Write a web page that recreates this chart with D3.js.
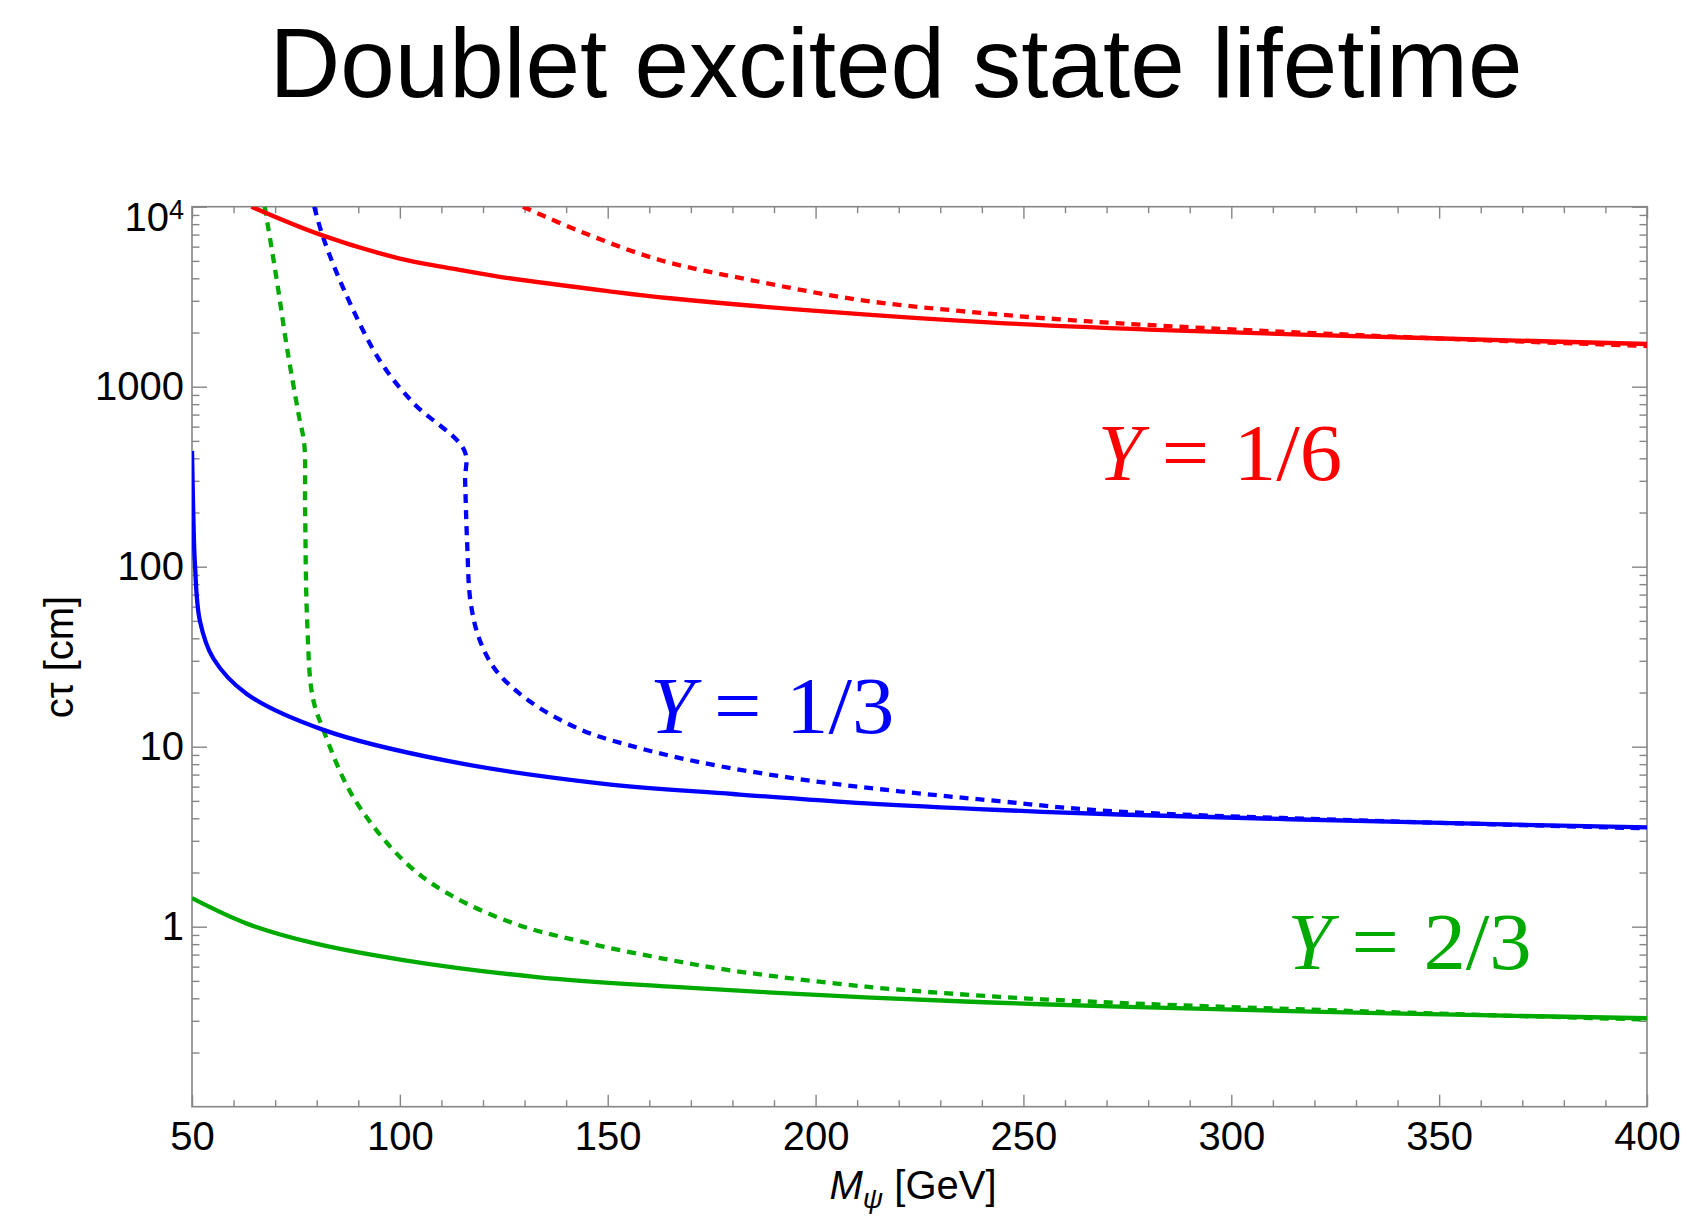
<!DOCTYPE html>
<html>
<head>
<meta charset="utf-8">
<script src="https://cdn.jsdelivr.net/npm/d3@7"></script>
<style>
  body { margin: 0; background: #fff; }
  text { font-family: "Liberation Sans", Arial, sans-serif; }
</style>
</head>
<body>
<svg id="chart"></svg>
<script>
// curves, [M_psi (GeV), c tau (cm)]
const y16Solid = [[64.3, 10000], [81.2, 6950], [100, 5150], [111.2, 4590], [124, 4080], [150, 3400],
  [165, 3100], [202.6, 2611], [242.6, 2269], [287.5, 2047], [348.4, 1858], [400, 1727]];
const y16Dashed = [[129.6, 10000], [143.3, 7300], [162.5, 5059], [186.5, 3828], [210.6, 3034],
  [234.6, 2636], [258.7, 2367], [287.5, 2154], [348.4, 1860], [400, 1683]];
const y13Solid = [[50, 440], [50.3, 200], [50.7, 104], [51.9, 50], [55.1, 31], [63.1, 19.7],
  [81.6, 12.4], [111.2, 8.36], [148.1, 6.26], [180.1, 5.46], [212.2, 4.84], [244.2, 4.45],
  [273.1, 4.2], [338.1, 3.83], [400, 3.56]];
const y13Dashed = [[79.4, 10000], [81.6, 6700], [87.2, 3200], [95.2, 1394], [103.2, 814], [115.5, 443],
  [115.7, 300], [116.2, 133], [117, 64], [119.2, 39.2], [123.2, 26.4], [131.2, 17.9], [143.3, 12.5],
  [155, 10.2], [172.1, 8.2], [196.2, 6.6], [220.2, 5.65], [244.2, 4.98], [270, 4.4],
  [338.1, 3.85], [400, 3.52]];
const y23Solid = [[50, 1.44], [63.2, 1.04], [79.3, 0.81], [100.8, 0.653], [133, 0.525], [165, 0.465],
  [212, 0.405], [244, 0.378], [273, 0.36], [338, 0.33], [400, 0.31]];
const y23Dashed = [[67.5, 10000], [70.4, 3900], [72.8, 1670], [75.6, 711], [77, 480], [77.2, 217],
  [77.7, 50], [79, 19], [81.6, 12.4], [88.8, 5.24], [100.8, 2.34], [111.5, 1.53], [127.6, 1.04],
  [143.7, 0.826], [165.1, 0.653], [180.1, 0.57], [212.2, 0.464], [244.2, 0.408], [272.3, 0.378],
  [338.1, 0.335], [400, 0.305]];

const xTicks = [50, 100, 150, 200, 250, 300, 350, 400];
const yTicks = [1, 10, 100, 1000, 10000];
const labels = [
  { text: "1/6", color: "#ff0000", m: 269.1, ct: 303 },
  { text: "1/3", color: "#0000ff", m: 161.4, ct: 11.87 },
  { text: "2/3", color: "#00aa00", m: 314.7, ct: 0.58 },
];

const dims = { width: 1687, height: 1221 };
const plot = { left: 192, right: 1647, top: 206.7, bottom: 1106.7 };
const frameColor = "#858585";

const svg = d3
  .select("#chart")
  .attr("width", dims.width)
  .attr("height", dims.height)
  .style("background", "#fff");

const x = d3.scaleLinear().domain([50, 400]).range([plot.left, plot.right]);
const y = d3.scaleLog().domain([0.1, 10000]).range([plot.bottom, plot.top]);

// minor ticks: every 10 GeV, and 2..9 within each decade
const xMinor = d3.range(60, 400, 10).filter((v) => v % 50 !== 0);
const yMinor = [];
[0.1, 1, 10, 100, 1000].forEach((dec) => {
  for (let k = 2; k <= 9; k++) yMinor.push(k * dec);
});

svg
  .append("text")
  .attr("x", 896)
  .attr("y", 97)
  .attr("text-anchor", "middle")
  .style("font-size", "98px")
  .text("Doublet excited state lifetime");

svg
  .append("defs")
  .append("clipPath")
  .attr("id", "plot-clip")
  .append("rect")
  .attr("x", plot.left)
  .attr("y", plot.top)
  .attr("width", plot.right - plot.left)
  .attr("height", plot.bottom - plot.top);

const styleAxis = (g) => {
  g.select(".domain").remove();
  g.selectAll("line").attr("stroke", frameColor).attr("stroke-width", 1.4);
  g.selectAll("text").attr("fill", "#000").style("font-size", "40px").style("font-family", "Liberation Sans, Arial, sans-serif");
};

// bottom + top
svg.append("g").attr("transform", `translate(0, ${plot.bottom})`)
  .call(d3.axisBottom(x).tickValues(xTicks).tickSize(-12).tickSizeOuter(0).tickPadding(15).tickFormat(d3.format("d")))
  .call(styleAxis);
svg.append("g").attr("transform", `translate(0, ${plot.bottom})`)
  .call(d3.axisBottom(x).tickValues(xMinor).tickSize(-6.5).tickSizeOuter(0).tickFormat(""))
  .call(styleAxis);
svg.append("g").attr("transform", `translate(0, ${plot.top})`)
  .call(d3.axisTop(x).tickValues(xTicks).tickSize(-12).tickSizeOuter(0).tickFormat(""))
  .call(styleAxis);
svg.append("g").attr("transform", `translate(0, ${plot.top})`)
  .call(d3.axisTop(x).tickValues(xMinor).tickSize(-6.5).tickSizeOuter(0).tickFormat(""))
  .call(styleAxis);

// left + right
const yAxisLeft = svg.append("g").attr("transform", `translate(${plot.left}, 0)`)
  .call(d3.axisLeft(y).tickValues(yTicks).tickSize(-15).tickSizeOuter(0).tickPadding(8).tickFormat((d) => (d === 10000 ? "" : d3.format("d")(d))))
  .call(styleAxis);
svg.append("g").attr("transform", `translate(${plot.left}, 0)`)
  .call(d3.axisLeft(y).tickValues(yMinor).tickSize(-7.5).tickSizeOuter(0).tickFormat(""))
  .call(styleAxis);
svg.append("g").attr("transform", `translate(${plot.right}, 0)`)
  .call(d3.axisRight(y).tickValues(yTicks).tickSize(-15).tickSizeOuter(0).tickFormat(""))
  .call(styleAxis);
svg.append("g").attr("transform", `translate(${plot.right}, 0)`)
  .call(d3.axisRight(y).tickValues(yMinor).tickSize(-7.5).tickSizeOuter(0).tickFormat(""))
  .call(styleAxis);

// 10^4 label with superscript
yAxisLeft
  .selectAll(".tick")
  .filter((d) => d === 10000)
  .select("text")
  .call((t) => {
    t.append("tspan").text("10");
    t.append("tspan").attr("dy", "-0.45em").style("font-size", "27px").text("4");
    t.attr("dy", "0.6em");
  });

// frame
svg
  .append("rect")
  .attr("x", plot.left)
  .attr("y", plot.top)
  .attr("width", plot.right - plot.left)
  .attr("height", plot.bottom - plot.top)
  .attr("fill", "none")
  .attr("stroke", frameColor)
  .attr("stroke-width", 1.6);

// curves
const line = d3
  .line()
  .x((d) => x(d[0]))
  .y((d) => y(d[1]))
  .curve(d3.curveCatmullRom.alpha(0.5));

const curves = [
  { data: y23Dashed, color: "#00aa00", dashed: true },
  { data: y13Dashed, color: "#0000ff", dashed: true },
  { data: y16Dashed, color: "#ff0000", dashed: true },
  { data: y23Solid, color: "#00aa00", dashed: false },
  { data: y13Solid, color: "#0000ff", dashed: false },
  { data: y16Solid, color: "#ff0000", dashed: false },
];

svg
  .append("g")
  .attr("clip-path", "url(#plot-clip)")
  .selectAll("path")
  .data(curves)
  .enter()
  .append("path")
  .attr("d", (d) => line(d.data))
  .attr("fill", "none")
  .attr("stroke", (d) => d.color)
  .attr("stroke-width", 4.3)
  .attr("stroke-dasharray", (d) => (d.dashed ? "9,7" : null));

// Y = ... labels, italic Y then roman rest
labels.forEach((l) => {
  const g = svg
    .append("g")
    .attr("transform", `translate(${x(l.m)}, ${y(l.ct)})`)
    .attr("fill", l.color);
  const serif = "Liberation Serif, Times New Roman, serif";
  g.append("text").attr("x", -5).style("font-family", serif).style("font-size", "80px").style("font-style", "italic").text("Y");
  g.append("text")
    .attr("transform", "translate(59, 0) scale(1.05, 1)")
    .style("font-family", serif)
    .style("font-size", "80px")
    .text("=");
  g.append("text")
    .attr("transform", "translate(131, 0) scale(1.06, 1)")
    .style("font-family", serif)
    .style("font-size", "80px")
    .text(l.text);
});

// axis titles
svg
  .append("text")
  .attr("transform", `translate(73, 657) rotate(-90)`)
  .attr("text-anchor", "middle")
  .style("font-size", "40px")
  .text("cτ [cm]");

const xTitle = svg
  .append("text")
  .attr("x", 913)
  .attr("y", 1199)
  .attr("text-anchor", "middle")
  .style("font-size", "40px");
xTitle.append("tspan").style("font-style", "italic").text("M");
xTitle.append("tspan").style("font-style", "italic").style("font-size", "28px").attr("dy", 9).text("ψ");
xTitle.append("tspan").attr("dy", -9).text(" [GeV]");
</script>
</body>
</html>
